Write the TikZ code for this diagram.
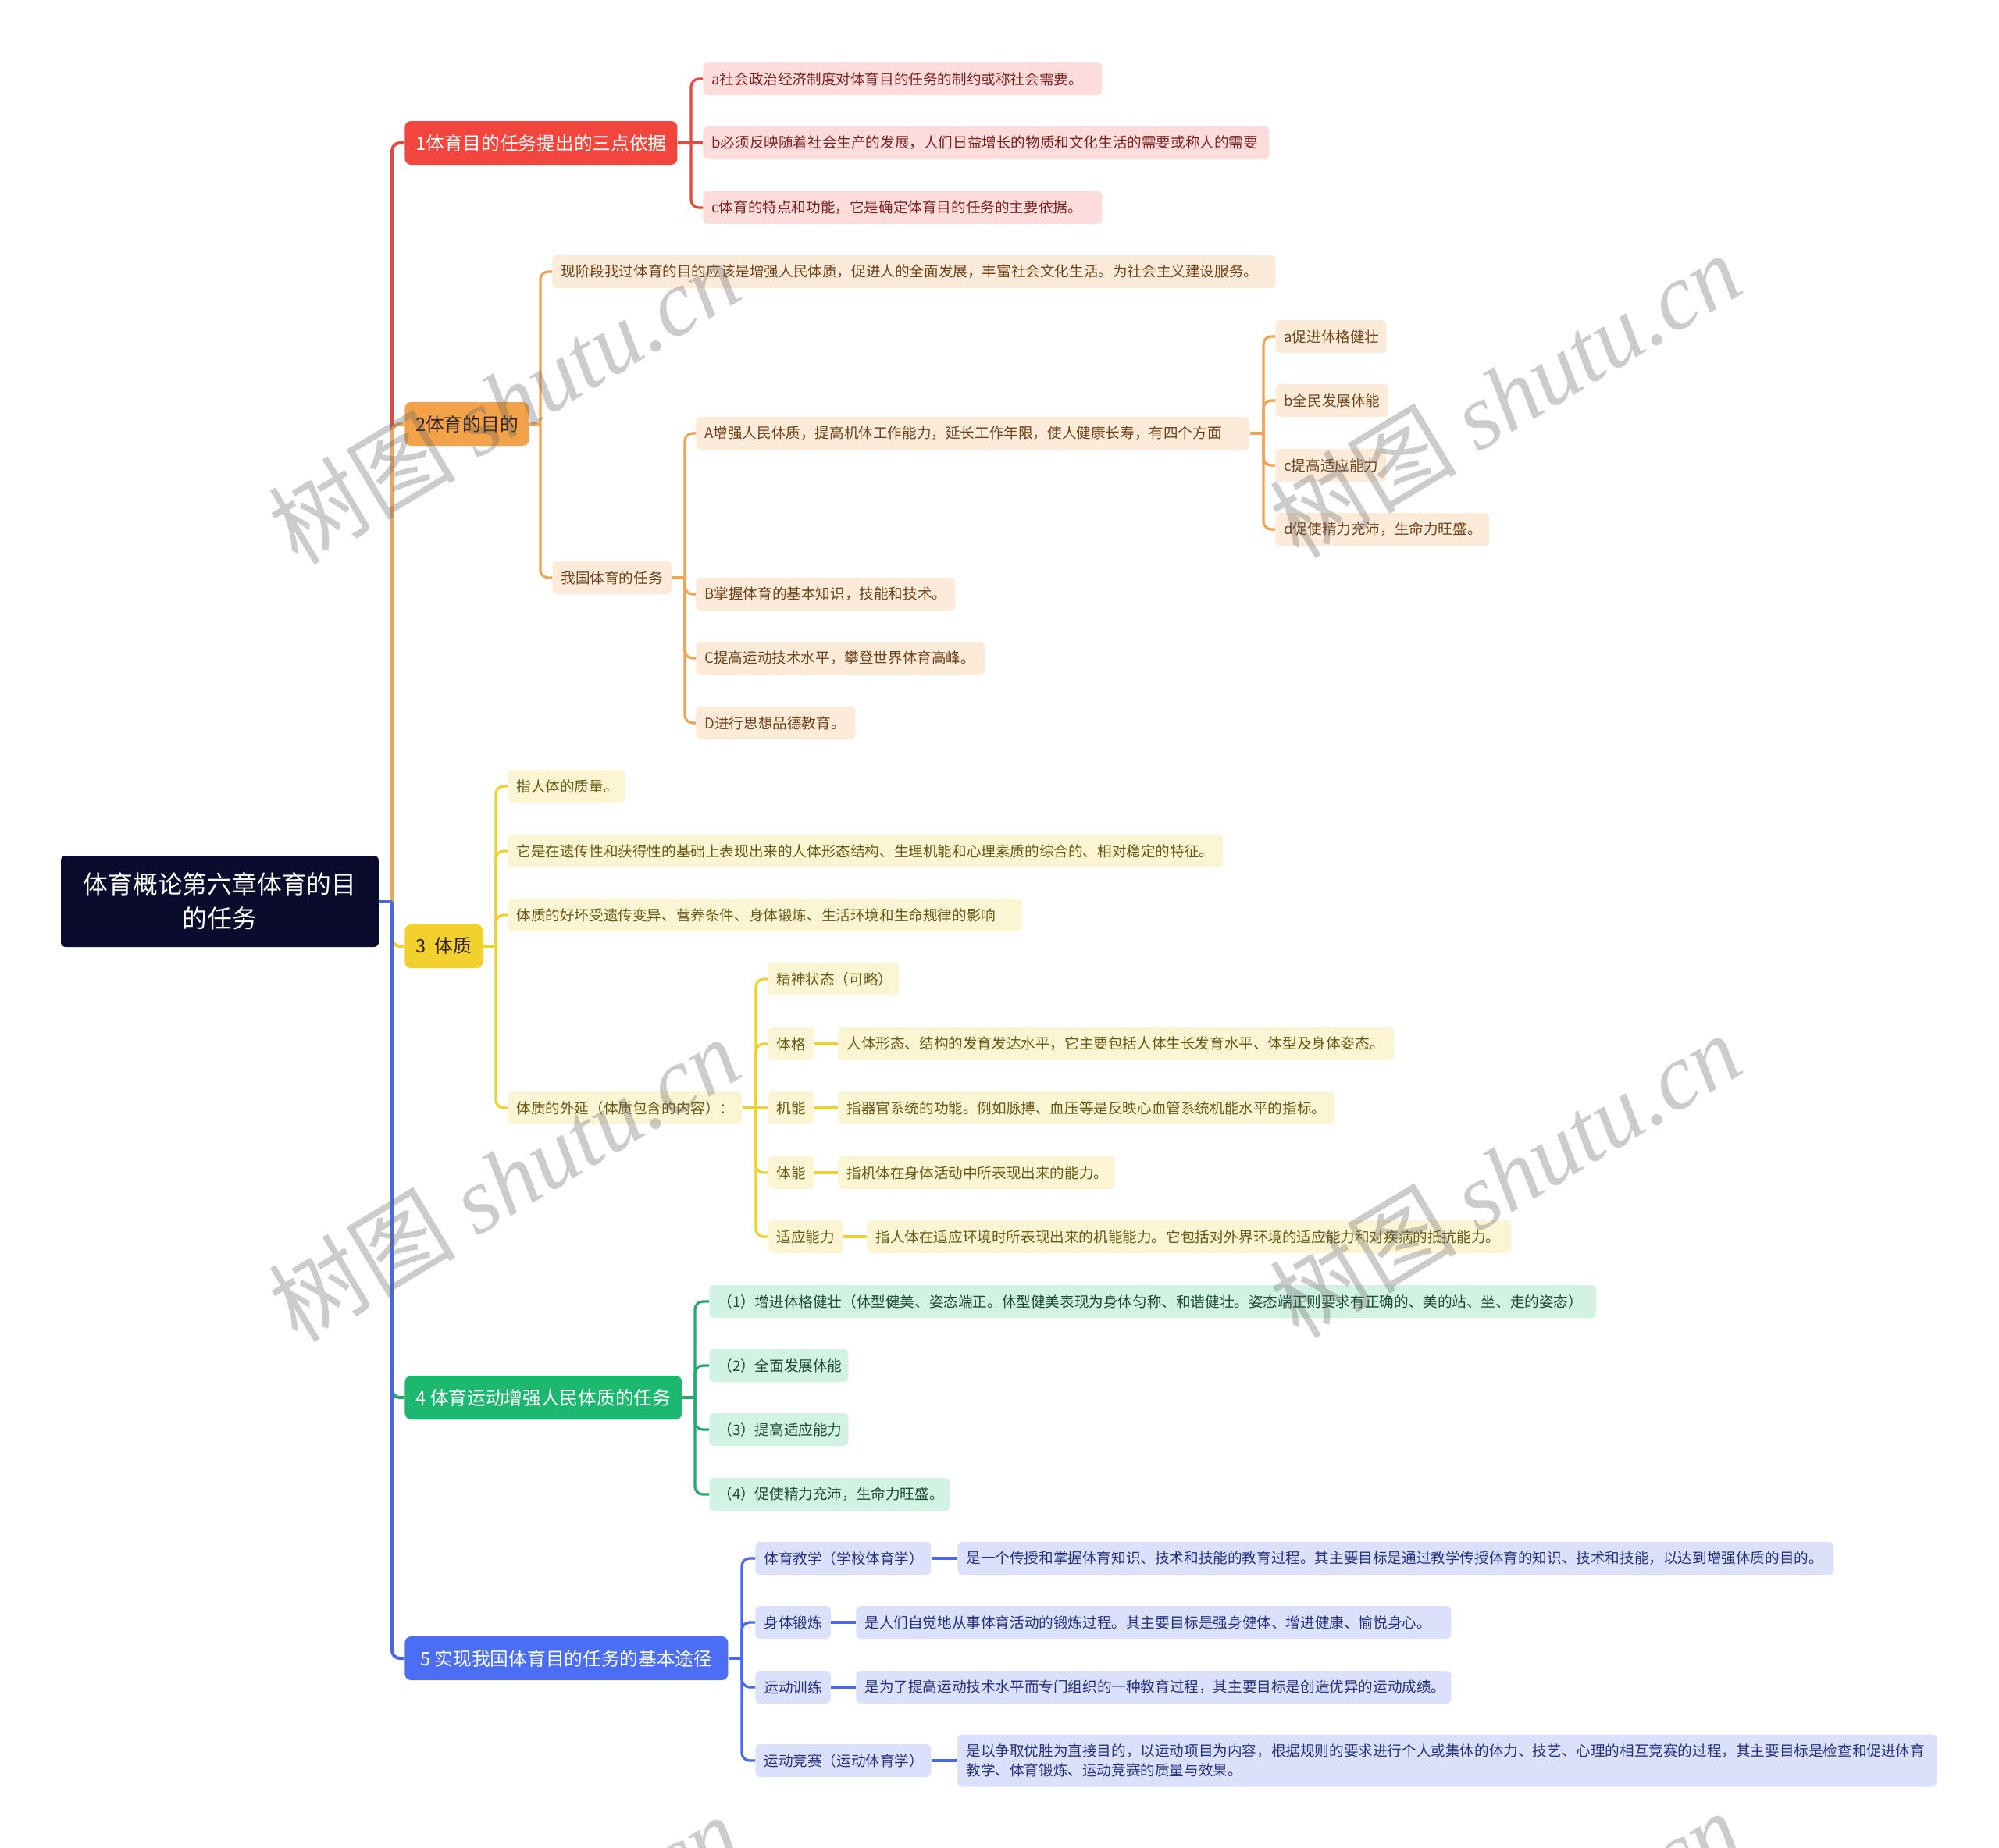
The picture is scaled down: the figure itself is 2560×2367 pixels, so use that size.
\documentclass[tikz,border=0pt]{standalone}
\usepackage{fontspec}
\setmainfont{Noto Sans CJK SC}
\newfontfamily\wmlatin{Liberation Serif}
\definecolor{rootc}{HTML}{0B0B2E}
\definecolor{fA}{HTML}{F2453D}\definecolor{lA}{HTML}{E8493F}\definecolor{cA}{HTML}{FDDDDB}\definecolor{tA}{HTML}{7B2222}
\definecolor{fB}{HTML}{F3A24A}\definecolor{lB}{HTML}{F0A356}\definecolor{cB}{HTML}{FDEBDA}\definecolor{tB}{HTML}{70431A}
\definecolor{fC}{HTML}{F2D12F}\definecolor{lC}{HTML}{F0CF34}\definecolor{cC}{HTML}{FCF5D4}\definecolor{tC}{HTML}{6A5914}
\definecolor{fD}{HTML}{1DB870}\definecolor{lD}{HTML}{27A870}\definecolor{cD}{HTML}{D2F2E4}\definecolor{tD}{HTML}{1C4A36}
\definecolor{fE}{HTML}{4C6EF5}\definecolor{lE}{HTML}{4A68E6}\definecolor{cE}{HTML}{DBE1FB}\definecolor{tE}{HTML}{243282}
\definecolor{dk}{HTML}{2E2010}
\begin{document}
\begin{tikzpicture}[x=0.5pt,y=-0.5pt,
  every node/.style={inner sep=0pt},
  bw/.style={minimum width=#1*0.5pt},
  tw/.style={text width=#1pt},
  rootbox/.style={fill=rootc,text=white,rounded corners=3pt,minimum width=203.5pt,minimum height=58.5pt,align=center,font=\fontsize{15.9}{22}\selectfont},
  br/.style={anchor=west,rounded corners=4pt,minimum height=28pt,inner xsep=6pt,font=\fontsize{11.85}{14}\selectfont},
  ch/.style={anchor=west,rounded corners=3pt,minimum height=21pt,inner xsep=5.5pt,align=left,font=\fontsize{9.3}{12.25}\selectfont},
  chA/.style={ch,fill=cA,text=tA},
  chB/.style={ch,fill=cB,text=tB},
  chC/.style={ch,fill=cC,text=tC},
  chD/.style={ch,fill=cD,text=tD},
  chE/.style={ch,fill=cE,text=tE},
  trunk/.style={line width=2pt,rounded corners=5pt},
  lnA/.style={draw=lA,line width=1.6pt,rounded corners=5pt},
  lnB/.style={draw=lB,line width=1.6pt,rounded corners=5pt},
  lnC/.style={draw=lC,line width=1.6pt,rounded corners=5pt},
  lnD/.style={draw=lD,line width=1.6pt,rounded corners=5pt},
  lnE/.style={draw=lE,line width=1.6pt,rounded corners=5pt},
  wm/.style={rotate=31,font=\fontsize{60}{60}\selectfont,text=black!60,text opacity=0.33}
]
\useasboundingbox (0,0) rectangle (2560,2367);
\fill[white] (0,0) rectangle (2560,2367);

% root
\node[rootbox] (root) at (281.5,1154.5) {体育概论第六章体育的目\\的任务};
\coordinate (t) at (502,1154.5);

% branches
\node[br,fill=fA,text=white,bw=349] (b1) at (518,183) {1体育目的任务提出的三点依据};
\node[br,fill=fB,text=dk,bw=159] (b2) at (518,543) {2体育的目的};
\node[br,fill=fC,text=dk,bw=100] (b3) at (518,1212) {3\ \ 体质};
\node[br,fill=fD,text=white,bw=355] (b4) at (518,1790) {4 体育运动增强人民体质的任务};
\node[br,fill=fE,text=white,bw=414] (b5) at (518,2124) {5 实现我国体育目的任务的基本途径};

% branch 1 children
\node[chA,tw=244.5] (a1) at (900,101) {a社会政治经济制度对体育目的任务的制约或称社会需要。};
\node[chA,tw=351.5] (a2) at (900,183) {b必须反映随着社会生产的发展，人们日益增长的物质和文化生活的需要或称人的需要};
\node[chA,tw=244.5] (a3) at (900,266) {c体育的特点和功能，它是确定体育目的任务的主要依据。};

% branch 2 children
\node[chB,tw=452] (p1) at (707,348) {现阶段我过体育的目的应该是增强人民体质，促进人的全面发展，丰富社会文化生活。为社会主义建设服务。};
\node[chB,tw=65.5] (p2) at (707,740) {我国体育的任务};
\node[chB,tw=343.5] (pA) at (891,555) {A增强人民体质，提高机体工作能力，延长工作年限，使人健康长寿，有四个方面};
\node[chB,tw=60] (pa) at (1633,431) {a促进体格健壮};
\node[chB,tw=61] (pb) at (1633,513) {b全民发展体能};
\node[chB,tw=60] (pc) at (1633,596) {c提高适应能力};
\node[chB,tw=126] (pd) at (1633,678) {d促使精力充沛，生命力旺盛。};
\node[chB,tw=155] (pB) at (891,761) {B掌握体育的基本知识，技能和技术。};
\node[chB,tw=174] (pC) at (891,843) {C提高运动技术水平，攀登世界体育高峰。};
\node[chB,tw=91] (pD) at (891,926) {D进行思想品德教育。};

% branch 3 children
\node[chC,tw=64] (q1) at (650,1007) {指人体的质量。};
\node[chC,tw=447] (q2) at (650,1090) {它是在遗传性和获得性的基础上表现出来的人体形态结构、生理机能和心理素质的综合的、相对稳定的特征。};
\node[chC,tw=318.5] (q3) at (650,1172) {体质的好坏受遗传变异、营养条件、身体锻炼、生活环境和生命规律的影响};
\node[chC,tw=139] (q4) at (650,1419) {体质的外延（体质包含的内容）：};
\node[chC,tw=73] (r1) at (983,1254) {精神状态（可略）};
\node[chC,bw=57] (r2) at (983,1337) {体格};
\node[chC,bw=57] (r3) at (983,1419) {机能};
\node[chC,bw=57] (r4) at (983,1502) {体能};
\node[chC,bw=95] (r5) at (983,1584) {适应能力};
\node[chC,tw=345] (e2) at (1073,1337) {人体形态、结构的发育发达水平，它主要包括人体生长发育水平、体型及身体姿态。};
\node[chC,tw=307] (e3) at (1073,1419) {指器官系统的功能。例如脉搏、血压等是反映心血管系统机能水平的指标。};
\node[chC,tw=166] (e4) at (1073,1502) {指机体在身体活动中所表现出来的能力。};
\node[chC,tw=401.5] (e5) at (1110,1584) {指人体在适应环境时所表现出来的机能能力。它包括对外界环境的适应能力和对疾病的抵抗能力。};

% branch 4 children
\node[chD,tw=557] (g1) at (908,1667) {（1）增进体格健壮（体型健美、姿态端正。体型健美表现为身体匀称、和谐健壮。姿态端正则要求有正确的、美的站、坐、走的姿态）};
\node[chD,tw=78] (g2) at (908,1749) {（2）全面发展体能};
\node[chD,tw=78] (g3) at (908,1831) {（3）提高适应能力};
\node[chD,tw=143] (g4) at (908,1914) {（4）促使精力充沛，生命力旺盛。};

% branch 5 children
\node[chE,tw=101.5] (h1) at (967,1996) {体育教学（学校体育学）};
\node[chE,bw=94] (h2) at (967,2078) {身体锻炼};
\node[chE,bw=94] (h3) at (967,2161) {运动训练};
\node[chE,tw=101.5] (h4) at (967,2255) {运动竞赛（运动体育学）};
\node[chE,tw=550] (k1) at (1226,1996) {是一个传授和掌握体育知识、技术和技能的教育过程。其主要目标是通过教学传授体育的知识、技术和技能，以达到增强体质的目的。};
\node[chE,tw=370] (k2) at (1096,2078) {是人们自觉地从事体育活动的锻炼过程。其主要目标是强身健体、增进健康、愉悦身心。};
\node[chE,tw=370] (k3) at (1096,2161) {是为了提高运动技术水平而专门组织的一种教育过程，其主要目标是创造优异的运动成绩。};
\node[chE,tw=616,minimum height=33.5pt] (k4) at (1226,2255) {是以争取优胜为直接目的，以运动项目为内容，根据规则的要求进行个人或集体的体力、技艺、心理的相互竞赛的过程，其主要目标是检查和促进体育\\教学、体育锻炼、运动竞赛的质量与效果。};

% trunk connectors
\draw[trunk,lA] (t) |- (b1.west);
\draw[trunk,lB] (t) |- (b2.west);
\draw[trunk,lC] (t) |- (b3.west);
\draw[trunk,lD] (t) |- (b4.west);
\draw[trunk,lE] (t) |- (b5.west);
\draw[trunk,lE] (root.east) -- (t);

% branch 1 connectors
\coordinate (sp1) at (885,183);
\draw[lnA] (b1.east) -- (a2.west);
\draw[lnA] (sp1) |- (a1.west);
\draw[lnA] (sp1) |- (a3.west);

% branch 2 connectors
\coordinate (sp2) at (692,543);
\draw[lnB] (b2.east) -- (sp2);
\draw[lnB] (sp2) |- (p1.west);
\draw[lnB] (sp2) |- (p2.west);
\coordinate (sp3) at (877,740);
\draw[lnB] (p2.east) -- (sp3);
\draw[lnB] (sp3) |- (pA.west);
\draw[lnB] (sp3) |- (pB.west);
\draw[lnB] (sp3) |- (pC.west);
\draw[lnB] (sp3) |- (pD.west);
\coordinate (sp4) at (1618,555);
\draw[lnB] (pA.east) -- (sp4);
\draw[lnB] (sp4) |- (pa.west);
\draw[lnB] (sp4) |- (pb.west);
\draw[lnB] (sp4) |- (pc.west);
\draw[lnB] (sp4) |- (pd.west);

% branch 3 connectors
\coordinate (sp5) at (635,1212);
\draw[lnC] (b3.east) -- (sp5);
\draw[lnC] (sp5) |- (q1.west);
\draw[lnC] (sp5) |- (q2.west);
\draw[lnC] (sp5) |- (q3.west);
\draw[lnC] (sp5) |- (q4.west);
\coordinate (sp6) at (968,1419);
\draw[lnC] (q4.east) -- (r3.west);
\draw[lnC] (sp6) |- (r1.west);
\draw[lnC] (sp6) |- (r2.west);
\draw[lnC] (sp6) |- (r4.west);
\draw[lnC] (sp6) |- (r5.west);
\draw[lnC] (r2.east) -- (e2.west);
\draw[lnC] (r3.east) -- (e3.west);
\draw[lnC] (r4.east) -- (e4.west);
\draw[lnC] (r5.east) -- (e5.west);

% branch 4 connectors
\coordinate (sp7) at (890,1790);
\draw[lnD] (b4.east) -- (sp7);
\draw[lnD] (sp7) |- (g1.west);
\draw[lnD] (sp7) |- (g2.west);
\draw[lnD] (sp7) |- (g3.west);
\draw[lnD] (sp7) |- (g4.west);

% branch 5 connectors
\coordinate (sp8) at (950,2124);
\draw[lnE] (b5.east) -- (sp8);
\draw[lnE] (sp8) |- (h1.west);
\draw[lnE] (sp8) |- (h2.west);
\draw[lnE] (sp8) |- (h3.west);
\draw[lnE] (sp8) |- (h4.west);
\draw[lnE] (h1.east) -- (k1.west);
\draw[lnE] (h2.east) -- (k2.west);
\draw[lnE] (h3.east) -- (k3.west);
\draw[lnE] (h4.east) -- (k4.west);

% watermarks
\begin{scope}
\clip (0,0) rectangle (2560,2367);
\node[wm] (w1) at (645,514) {树图 {\wmlatin\itshape shutu.cn}};
\node[wm] (w2) at (1927,506) {树图 {\wmlatin\itshape shutu.cn}};
\node[wm] (w3) at (645,1510) {树图 {\wmlatin\itshape shutu.cn}};
\node[wm] (w4) at (1927,1505) {树图 {\wmlatin\itshape shutu.cn}};
\node[wm] (w5) at (645,2506) {树图 {\wmlatin\itshape shutu.cn}};
\node[wm] (w6) at (1927,2501) {树图 {\wmlatin\itshape shutu.cn}};
\end{scope}
\end{tikzpicture}
\end{document}
